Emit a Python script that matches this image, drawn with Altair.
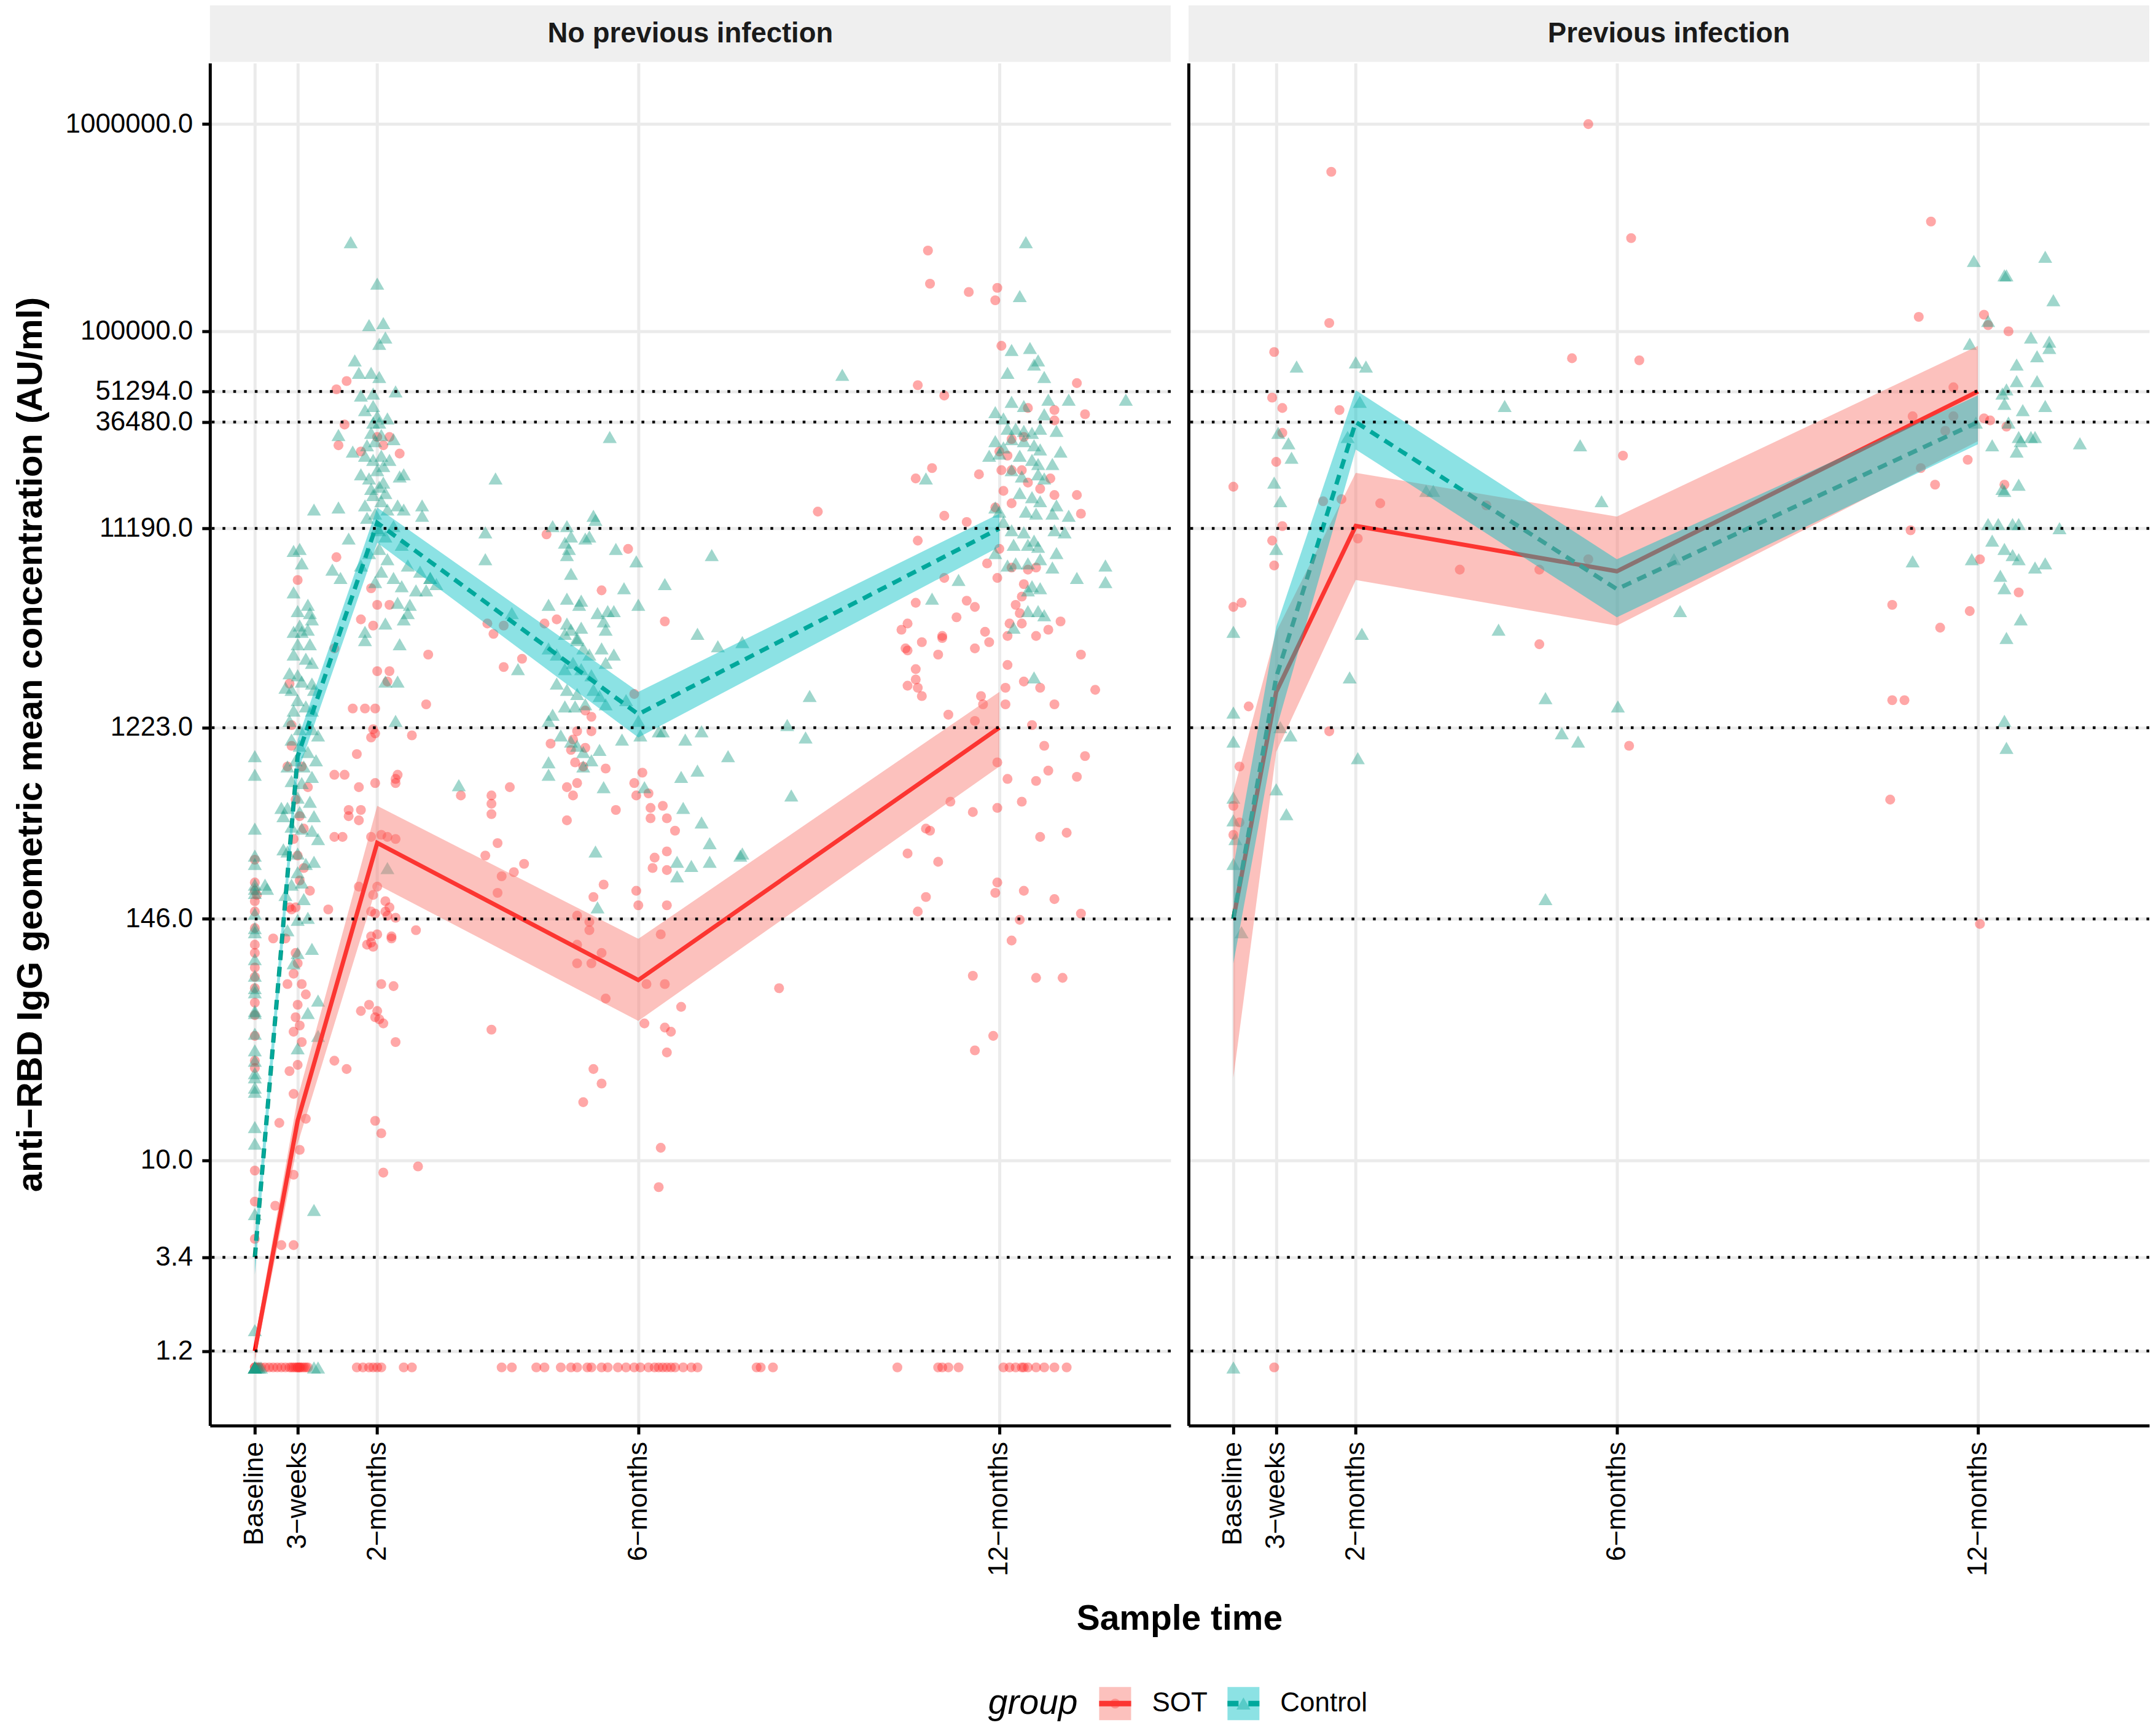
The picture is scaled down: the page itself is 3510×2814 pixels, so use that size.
import altair as alt
import pandas as pd

FONT = "Liberation Sans"
PANELS = ["No previous infection", "Previous infection"]
GROUPS = ["SOT", "Control"]
TIME_DAYS = [0, 21, 60, 188, 365]
TIME_LABELS = ["Baseline", "3\u2212weeks", "2\u2212months", "6\u2212months", "12\u2212months"]
Y_TICKS = [1.2, 3.4, 10, 146, 1223, 11190, 36480, 51294, 100000, 1000000]
REF_LINES = [51294, 36480, 11190, 1223, 146, 3.4, 1.2]
Y_TITLE = "anti\u2212RBD IgG geometric mean concentration (AU/ml)"
X_TITLE = "Sample time"
LEGEND_TITLE = "group"

# geometric mean concentration and 95% CI (AU/ml) at TIME_DAYS
NOPREV_SOT_GMT = [1.2, 15.5, 340, 74, 1223]
NOPREV_SOT_LO = [1.07, 12.0, 214, 47, 794]
NOPREV_SOT_HI = [1.35, 20, 513, 117, 1820]
NOPREV_CTRL_GMT = [3.4, 890, 11900, 1420, 11190]
NOPREV_CTRL_LO = [2.8, 741, 9550, 1096, 9120]
NOPREV_CTRL_HI = [4.2, 1072, 14125, 1820, 13180]
PREV_SOT_GMT = [146, 1820, 11500, 6950, 51294]
PREV_SOT_LO = [25, 933, 6310, 3800, 29500]
PREV_SOT_HI = [600, 3550, 20750, 12760, 85100]
PREV_CTRL_GMT = [146, 2140, 36480, 5700, 36480]
PREV_CTRL_LO = [89, 1200, 26900, 4170, 28500]
PREV_CTRL_HI = [260, 3760, 52000, 7940, 49000]

# individual samples: [sample day, log10(AU/ml)]; *_LOD = days of samples below detection (plotted at 1.0)
NOPREV_SOT_LOD = [0, 0, 1, 2, 3, 5, 7, 9, 11, 13, 15, 17, 18, 19, 20, 21, 21, 22, 22, 23, 24, 25, 26,
                  50, 53, 56, 58, 60, 62, 73, 77, 121, 126, 138, 142, 150, 155, 158, 163, 165, 170, 173,
                  178, 182, 186, 189, 193, 196, 198, 200, 202, 204, 206, 210, 214, 217, 246, 248, 254,
                  315, 335, 337, 340, 345, 367, 370, 373, 376, 377, 379, 383, 387, 392, 398]
NOPREV_SOT = [
    [0, 2.34], [0, 2.30], [1, 2.28], [0, 2.25], [0, 2.20], [0, 2.12], [0, 2.04], [0, 1.93], [0, 1.885],
    [0, 1.83], [0, 1.76], [0, 1.60], [0, 1.48], [0, 1.445], [0, 0.95], [0, 0.80], [0, 0.62], [0, 2.0],
    [0, 1.7], [0, 2.45],
    [9, 2.07], [12, 1.18], [10, 0.78], [13, 0.59], [19, 0.59], [16, 1.85], [17, 1.43], [19, 1.32],
    [19, 1.90], [21, 1.46], [19, 0.93],
    [17, 3.30], [18, 3.0], [20, 2.74], [22, 2.66], [21, 2.47], [24, 2.41], [20, 2.22], [17, 2.22],
    [15, 2.07], [18, 2.21], [21, 1.75], [20, 1.69], [22, 1.65], [19, 1.62], [23, 1.57], [25, 1.2],
    [21, 3.80], [23, 2.9], [19, 2.55], [22, 2.35], [20, 2.0], [23, 1.85], [25, 1.80], [24, 2.6],
    [26, 2.8], [18, 3.1], [21, 1.95], [22, 1.05], [27, 2.3], [16, 2.9],
    [41, 4.45], [60, 4.49], [71, 4.41], [40, 4.72], [45, 4.76], [44, 4.55], [52, 4.42], [66, 4.49],
    [63, 4.45], [40, 3.91], [57, 3.76], [60, 3.68], [66, 3.68], [52, 3.61], [58, 3.58], [39, 3.47],
    [85, 3.44], [60, 3.36], [66, 3.36], [65, 3.31], [48, 3.18], [54, 3.18], [59, 3.18], [84, 3.2],
    [58, 3.08], [59, 3.06], [57, 3.04], [77, 3.05], [50, 2.96], [70, 2.86], [69, 2.84], [69, 2.82],
    [39, 2.86], [44, 2.86], [51, 2.80], [59, 2.82], [46, 2.69], [52, 2.69], [46, 2.66], [51, 2.64],
    [39, 2.56], [43, 2.56], [57, 2.56], [62, 2.57], [65, 2.56], [69, 2.55], [51, 2.32], [60, 2.32],
    [57, 2.20], [59, 2.19], [64, 2.20], [65, 2.18], [69, 2.17], [36, 2.21], [79, 2.11], [60, 2.09],
    [67, 2.08], [55, 2.04], [57, 2.05], [58, 2.28], [64, 2.25], [66, 2.22], [57, 2.08], [58, 2.03],
    [67, 2.07], [62, 1.85], [68, 1.84], [56, 1.75], [52, 1.72], [60, 1.72], [59, 1.69], [61, 1.68],
    [63, 1.66], [69, 1.57], [39, 1.48], [45, 1.44], [59, 1.19], [62, 1.13], [63, 0.94], [80, 0.97],
    [143, 4.02], [183, 3.95], [170, 3.75], [201, 3.60], [114, 3.59], [117, 3.54], [122, 3.58],
    [142, 3.59], [148, 3.61], [122, 3.38], [131, 3.42], [186, 3.25], [162, 3.17], [165, 3.14],
    [158, 3.07], [165, 3.07], [156, 3.03], [162, 2.99], [155, 2.98], [145, 3.01], [172, 2.89],
    [161, 2.90], [157, 2.92], [186, 2.82], [190, 2.87], [187, 2.76], [193, 2.77], [153, 2.80],
    [158, 2.82], [156, 2.76], [153, 2.64], [177, 2.69], [194, 2.70], [200, 2.71], [194, 2.65],
    [202, 2.65], [206, 2.59], [196, 2.46], [195, 2.41], [202, 2.49], [202, 2.40], [187, 2.30],
    [188, 2.23], [202, 2.23], [199, 2.09], [101, 2.76], [116, 2.76], [116, 2.72], [116, 2.67],
    [125, 2.80], [119, 2.53], [113, 2.47], [121, 2.37], [127, 2.39], [132, 2.43], [119, 2.29],
    [171, 2.33], [166, 2.27], [158, 2.18], [164, 2.15], [164, 2.11], [170, 2.0], [158, 1.95],
    [165, 1.95], [158, 2.04], [172, 1.78], [201, 1.85], [192, 1.85], [191, 1.66], [201, 1.64],
    [204, 1.62], [202, 1.52], [209, 1.74], [116, 1.63], [166, 1.44], [170, 1.37], [161, 1.28],
    [199, 1.06], [198, 0.87], [257, 1.83], [276, 4.13],
    [330, 5.39], [331, 5.23], [350, 5.19], [364, 5.21], [363, 5.15], [366, 4.93], [325, 4.74],
    [338, 4.69], [403, 4.75], [379, 4.63], [392, 4.62], [392, 4.57], [407, 4.60], [324, 4.29],
    [332, 4.34], [355, 4.31], [365, 4.42], [369, 4.40], [371, 4.48], [377, 4.49], [366, 4.33],
    [371, 4.33], [376, 4.33], [367, 4.23], [371, 4.17], [379, 4.27], [385, 4.24], [390, 4.29],
    [392, 4.21], [403, 4.21], [405, 4.12], [338, 4.11], [349, 4.08], [363, 4.15], [365, 3.95],
    [364, 3.81], [371, 3.86], [325, 3.99], [359, 3.88], [338, 3.81], [377, 3.78], [379, 3.85],
    [383, 3.86], [376, 3.72], [373, 3.68], [375, 3.64], [324, 3.69], [349, 3.70], [353, 3.67],
    [344, 3.62], [320, 3.59], [317, 3.56], [327, 3.50], [337, 3.52], [337, 3.53], [320, 3.46],
    [319, 3.47], [335, 3.44], [353, 3.47], [358, 3.55], [360, 3.50], [369, 3.53], [370, 3.59],
    [376, 3.59], [383, 3.53], [389, 3.56], [395, 3.60], [324, 3.37], [324, 3.32], [320, 3.29],
    [325, 3.28], [327, 3.24], [369, 3.39], [377, 3.31], [385, 3.28], [368, 3.28], [368, 3.20],
    [392, 3.20], [405, 3.44], [412, 3.27], [340, 3.15], [356, 3.24], [357, 3.20], [353, 3.12],
    [381, 3.10], [387, 3.0], [389, 2.88], [383, 2.83], [407, 2.95], [403, 2.85], [364, 2.92],
    [369, 2.84], [341, 2.73], [352, 2.68], [364, 2.70], [376, 2.73], [331, 2.59], [329, 2.60],
    [385, 2.56], [398, 2.58], [320, 2.48], [335, 2.44], [364, 2.34], [363, 2.29], [377, 2.30],
    [392, 2.26], [329, 2.27], [325, 2.20], [375, 2.16], [405, 2.19], [371, 2.06], [352, 1.89],
    [383, 1.88], [396, 1.88], [362, 1.60], [353, 1.53],
]
NOPREV_CTRL_LOD = [0, 0, 0, 0, 0, 0, 1, 2, 3, 29, 31]
NOPREV_CTRL = [
    [0, 2.95], [0, 2.86], [0, 2.60], [0, 2.47], [0, 2.43], [0, 2.33], [0, 2.31], [0, 2.29], [0, 2.19],
    [0, 2.12], [0, 2.10], [0, 1.97], [0, 1.89], [0, 1.83], [0, 1.81], [0, 1.72], [0, 1.71], [0, 1.61],
    [0, 1.53], [0, 1.48], [0, 1.42], [0, 1.40], [0, 1.35], [0, 1.33], [0, 1.16], [0, 1.08], [0, 0.74],
    [0, 0.18],
    [5, 2.33], [6, 2.31], [13, 2.70], [14, 2.66], [14, 2.5], [29, 0.76],
    [19, 3.94], [22, 3.95], [23, 3.88], [19, 3.74], [21, 3.65], [26, 3.68], [27, 3.64], [28, 3.61],
    [22, 3.58], [19, 3.55], [23, 3.55], [26, 3.56], [21, 3.49], [27, 3.49], [19, 3.44], [25, 3.42],
    [28, 3.40], [17, 3.35], [21, 3.34], [23, 3.31], [28, 3.30], [29, 3.27], [15, 3.28], [18, 3.27],
    [21, 3.22], [25, 3.19], [28, 3.17], [19, 3.17], [17, 3.12], [22, 3.08], [28, 3.08], [31, 3.05],
    [18, 3.03], [22, 3.0], [26, 2.97], [30, 2.93], [20, 2.93], [16, 2.90], [24, 2.90], [28, 2.85],
    [18, 2.83], [23, 2.82], [21, 2.75], [27, 2.73], [16, 2.70], [22, 2.68], [29, 2.66], [18, 2.61],
    [23, 2.60], [28, 2.59], [31, 2.55], [16, 2.49], [21, 2.48], [25, 2.43], [29, 2.44], [21, 2.39],
    [23, 2.34], [18, 2.33], [15, 2.28], [24, 2.26], [21, 2.16], [26, 2.17], [16, 2.11], [21, 2.0],
    [28, 2.02], [19, 1.95], [41, 4.15], [29, 4.14], [38, 3.85], [31, 1.77], [26, 1.71], [21, 1.54],
    [31, 1.60],
    [47, 5.43], [60, 5.23], [56, 5.03], [63, 5.04], [64, 4.97], [61, 4.94], [49, 4.86], [51, 4.80],
    [57, 4.80], [61, 4.78], [52, 4.69], [69, 4.71], [58, 4.64], [60, 4.59], [58, 4.56], [61, 4.56],
    [41, 4.50], [57, 4.51], [62, 4.50], [68, 4.48], [48, 4.42], [54, 4.40], [58, 4.38], [63, 4.35],
    [52, 4.31], [56, 4.29], [61, 4.25], [71, 4.30], [73, 4.31], [58, 4.21], [62, 4.18], [54, 4.16],
    [65, 4.14], [70, 4.16], [73, 4.14], [82, 4.16], [82, 4.11], [55, 4.10], [61, 4.04], [68, 4.06],
    [64, 4.01], [46, 4.0], [56, 3.93], [61, 3.95], [65, 3.90], [72, 3.97], [52, 3.87], [62, 3.84],
    [59, 3.79], [68, 3.81], [72, 3.77], [75, 3.87], [81, 3.84], [86, 3.81], [42, 3.81], [55, 4.45],
    [59, 4.47], [60, 4.33], [63, 4.27], [57, 4.24], [66, 4.38], [59, 4.12], [64, 4.22], [60, 4.05],
    [62, 4.4], [58, 4.70], [54, 4.62], [65, 4.58],
    [79, 3.75], [84, 3.75], [89, 3.78], [73, 3.61], [75, 3.64], [76, 3.68], [70, 3.69], [71, 3.49],
    [86, 3.81], [100, 2.81], [129, 3.37], [126, 3.64], [54, 3.51], [64, 3.31], [70, 3.31], [54, 3.55],
    [64, 3.59], [69, 3.12], [65, 2.41],
    [174, 4.49], [118, 4.29], [166, 4.11], [167, 4.09], [146, 4.06], [153, 4.06], [155, 4.01],
    [162, 4.0], [164, 4.01], [113, 4.03], [113, 3.90], [152, 3.98], [154, 3.95], [153, 3.92],
    [177, 3.95], [187, 3.89], [155, 3.83], [201, 3.78], [181, 3.76], [188, 3.68], [144, 3.68],
    [153, 3.71], [160, 3.70], [159, 3.68], [168, 3.64], [173, 3.65], [176, 3.65], [224, 3.92],
    [217, 3.54], [153, 3.59], [155, 3.56], [160, 3.57], [152, 3.54], [158, 3.52], [171, 3.60],
    [172, 3.56], [144, 3.47], [148, 3.44], [158, 3.51], [161, 3.47], [164, 3.44], [170, 3.47],
    [176, 3.44], [152, 3.37], [156, 3.40], [160, 3.37], [165, 3.34], [172, 3.40], [148, 3.30],
    [153, 3.27], [158, 3.25], [166, 3.27], [169, 3.24], [152, 3.19], [157, 3.19], [162, 3.20],
    [172, 3.20], [182, 3.22], [188, 3.12], [200, 3.07], [198, 3.07], [180, 3.03], [189, 3.05],
    [146, 3.15], [144, 3.12], [150, 3.05], [155, 3.02], [158, 3.0], [211, 3.03], [219, 3.07],
    [169, 2.98], [161, 2.97], [165, 2.93], [161, 2.90], [144, 2.92], [144, 2.86], [171, 2.80],
    [209, 2.85], [217, 2.88], [232, 2.95], [210, 2.70], [219, 2.63], [207, 2.44], [214, 2.42],
    [223, 2.44], [223, 2.53], [238, 2.47], [207, 2.37], [167, 2.49], [168, 2.22], [191, 2.80],
    [288, 4.79], [239, 3.50], [272, 3.24], [261, 3.10], [270, 3.04], [263, 2.76], [239, 2.48],
    [345, 3.80], [332, 3.71], [329, 4.29], [227, 3.48],
    [378, 5.43], [375, 5.17], [371, 4.91], [380, 4.92], [384, 4.86], [382, 4.84], [387, 4.78],
    [369, 4.80], [389, 4.67], [377, 4.64], [371, 4.66], [387, 4.60], [399, 4.67], [427, 4.67],
    [363, 4.61], [367, 4.58], [369, 4.53], [373, 4.53], [377, 4.52], [381, 4.51], [385, 4.53],
    [363, 4.47], [367, 4.44], [371, 4.48], [377, 4.47], [382, 4.45], [385, 4.43], [393, 4.52],
    [360, 4.40], [365, 4.41], [375, 4.40], [381, 4.38], [384, 4.36], [391, 4.36], [395, 4.42],
    [371, 4.33], [376, 4.30], [384, 4.31], [387, 4.29], [375, 4.22], [381, 4.20], [385, 4.18],
    [393, 4.16], [399, 4.11], [363, 4.15], [365, 4.13], [378, 4.13], [383, 4.12], [391, 4.12],
    [367, 4.08], [371, 4.04], [377, 4.03], [382, 3.99], [392, 4.04], [397, 4.03], [372, 3.97],
    [379, 3.97], [384, 3.96], [363, 3.93], [369, 3.87], [373, 3.88], [379, 3.88], [385, 3.90],
    [393, 3.93], [391, 3.86], [417, 3.87], [417, 3.79], [403, 3.81], [381, 3.77], [379, 3.75],
    [385, 3.76], [379, 3.65], [384, 3.65], [387, 3.63], [372, 3.57], [382, 3.33],
]
PREV_SOT_LOD = [20]
PREV_SOT = [
    [48, 5.77], [174, 6.0], [195, 5.45], [342, 5.53],
    [47, 5.04], [20, 4.90], [19, 4.68], [24, 4.63], [52, 4.62], [24, 4.51], [166, 4.87], [199, 4.86],
    [21, 4.37], [0, 4.25], [44, 4.18], [53, 4.19], [72, 4.17], [24, 4.06], [19, 3.99], [20, 3.87],
    [61, 4.0], [111, 3.85], [124, 4.16], [150, 3.85], [174, 3.90], [191, 4.40], [0, 3.67], [4, 3.69],
    [150, 3.49], [7.5, 3.19], [47, 3.07], [194, 3.0], [3, 2.90], [0, 2.71], [3, 2.63], [0, 2.57],
    [336, 5.07], [368, 5.08], [370, 5.03], [380, 5.0], [353, 4.73], [333, 4.59], [353, 4.59],
    [349, 4.52], [368, 4.58], [371, 4.57], [379, 4.54], [337, 4.34], [360, 4.38], [344, 4.26],
    [378, 4.26], [332, 4.04], [366, 3.90], [385, 3.74], [323, 3.68], [361, 3.65], [346.5, 3.57],
    [323, 3.22], [329, 3.22], [322, 2.74], [366, 2.14],
]
PREV_CTRL_LOD = [0]
PREV_CTRL = [
    [31, 4.83], [60, 4.85], [65, 4.83], [62, 4.66], [133, 4.64], [22, 4.51], [27, 4.46], [28.5, 4.39],
    [56, 4.49], [170, 4.45], [20, 4.27], [23, 4.18], [180.5, 4.18], [94.5, 4.23], [98, 4.23],
    [21, 3.95], [0, 3.55], [63, 3.54], [130, 3.56], [57, 3.33], [153, 3.23], [188.5, 3.19], [0, 3.16],
    [0, 3.02], [23, 3.09], [28, 3.05], [161, 3.06], [169, 3.02], [61, 2.94], [21, 2.79], [26, 2.67],
    [0, 2.75], [0, 2.64], [1, 2.55], [0, 2.43], [4, 2.10], [153, 2.26], [219, 3.65],
    [363, 5.34], [398, 5.36], [378, 5.27], [379, 5.27], [402, 5.15], [370, 5.05], [391, 4.97],
    [400, 4.95], [400, 4.92], [361, 4.94], [384, 4.84], [394, 4.88], [384, 4.76], [379, 4.72],
    [377, 4.70], [394, 4.76], [378, 4.65], [387, 4.62], [398, 4.64], [364, 4.56], [380, 4.56],
    [385, 4.49], [384, 4.42], [386, 4.47], [391, 4.49], [393, 4.49], [372, 4.45], [415, 4.46],
    [377, 4.24], [378, 4.23], [385, 4.26], [370, 4.07], [375, 4.07], [382, 4.07], [385, 4.07],
    [405, 4.05], [372, 3.99], [362, 3.90], [378, 3.95], [382, 3.92], [385, 3.90], [393, 3.86],
    [398, 3.88], [376, 3.82], [378, 3.76], [333, 3.89], [386, 3.61], [379, 3.52], [378, 3.12],
    [379, 2.99], [216, 3.90],
]

# ---------------- tables ----------------
pt_rows = []
def add_points(panel, group, pairs, lod_days):
    for d, l in pairs:
        pt_rows.append({"panel": panel, "group": group, "day": d, "conc": 10 ** l})
    for d in lod_days:
        pt_rows.append({"panel": panel, "group": group, "day": d, "conc": 1.0})

add_points(PANELS[0], "SOT", NOPREV_SOT, NOPREV_SOT_LOD)
add_points(PANELS[0], "Control", NOPREV_CTRL, NOPREV_CTRL_LOD)
add_points(PANELS[1], "SOT", PREV_SOT, PREV_SOT_LOD)
add_points(PANELS[1], "Control", PREV_CTRL, PREV_CTRL_LOD)
points = pd.DataFrame(pt_rows)

gm_rows = []
for panel, group, g, lo, hi in [
    (PANELS[0], "SOT", NOPREV_SOT_GMT, NOPREV_SOT_LO, NOPREV_SOT_HI),
    (PANELS[0], "Control", NOPREV_CTRL_GMT, NOPREV_CTRL_LO, NOPREV_CTRL_HI),
    (PANELS[1], "SOT", PREV_SOT_GMT, PREV_SOT_LO, PREV_SOT_HI),
    (PANELS[1], "Control", PREV_CTRL_GMT, PREV_CTRL_LO, PREV_CTRL_HI),
]:
    for d, a, b, c in zip(TIME_DAYS, g, lo, hi):
        gm_rows.append({"panel": panel, "group": group, "day": d, "gmt": a, "lo": b, "hi": c})
gmt = pd.DataFrame(gm_rows)
reflines = pd.DataFrame({"v": REF_LINES})

# ---------------- styling ----------------
W, H = 1565, 2220
GAP = 29
PCOL = {"SOT": "#FF2E2E", "Control": "#1A9E86"}
LCOL = {"SOT": "#FF0000", "Control": "#00967D"}
RCOL = {"SOT": "#F8766D", "Control": "#00BFC4"}
SHAPE = {"SOT": "circle", "Control": "triangle-up"}
SIZE = {"SOT": 260, "Control": 520}
DASH = {"SOT": {}, "Control": {"strokeDash": [16, 11]}}
LEG_DASH = {"SOT": {}, "Control": {"strokeDash": [18, 16]}}
LEG_DX = [-105, 104]
PT_OPACITY = 0.42

xscale = alt.Scale(domain=[-22, 449], nice=False, zero=False)
yscale = alt.Scale(type="log", domain=[0.524, 1.97e6], nice=False)
label_expr = " : ".join(f"datum.value == {d} ? '{l}'" for d, l in zip(TIME_DAYS, TIME_LABELS)) + " : ''"

grid_kw = dict(grid=True, gridColor="#EBEBEB", gridWidth=5, domainColor="black", domainWidth=5)
xaxis = alt.Axis(values=TIME_DAYS, labelExpr=label_expr, title=None, labelAngle=270, labelAlign="right",
                 labelBaseline="middle", labelFontSize=44, labelColor="black", labelPadding=12,
                 labelLimit=0, tickSize=14, tickWidth=5, tickColor="black", labelFlush=False,
                 labelOverlap=False, **grid_kw)
yaxis_left = alt.Axis(values=Y_TICKS, format=".1f", title=Y_TITLE, titleFontSize=58,
                      titleFontWeight="bold", titleColor="black", titlePadding=62, titleLimit=0,
                      labelFontSize=44, labelColor="black", labelPadding=15, labelLimit=0, tickSize=13,
                      tickWidth=5, tickColor="black", labelOverlap=False, labelFlush=False, **grid_kw)
yaxis_right = alt.Axis(values=Y_TICKS, labels=False, ticks=False, title=None, **grid_kw)


def panel_chart(panel, yaxis, extras):
    X = alt.X("day:Q", scale=xscale, axis=xaxis)
    strip_df = pd.DataFrame({"panel": [panel]})
    layers = [
        alt.Chart(strip_df).mark_rect(color="#EFEFEF").encode(
            x=alt.value(0), x2=alt.value(W), y=alt.value(-94), y2=alt.value(-2)),
        alt.Chart(strip_df).mark_text(fontSize=45.5, fontWeight="bold", color="#1A1A1A",
                                      baseline="middle", align="center").encode(
            x=alt.value(W / 2), y=alt.value(-48), text="panel:N"),
    ]
    for g in GROUPS:
        d = points[(points.panel == panel) & (points.group == g)]
        layers.append(alt.Chart(d).mark_point(filled=True, shape=SHAPE[g], size=SIZE[g],
                                              opacity=PT_OPACITY, color=PCOL[g], strokeWidth=0).encode(
            x=X, y=alt.Y("conc:Q", scale=yscale, axis=yaxis)))
    for g in GROUPS:
        d = gmt[(gmt.panel == panel) & (gmt.group == g)]
        layers.append(alt.Chart(d).mark_line(color=LCOL[g], strokeWidth=7, **DASH[g]).encode(
            x=X, y=alt.Y("gmt:Q", scale=yscale, axis=yaxis)))
    for g in GROUPS:
        d = gmt[(gmt.panel == panel) & (gmt.group == g)]
        layers.append(alt.Chart(d).mark_area(color=RCOL[g], opacity=0.45).encode(
            x=X, y=alt.Y("lo:Q", scale=yscale, axis=yaxis), y2="hi:Q"))
    layers.append(alt.Chart(reflines).mark_rule(color="black", strokeWidth=4.5,
                                                strokeDash=[4.5, 13]).encode(
        y=alt.Y("v:Q", scale=yscale, axis=yaxis)))
    layers += extras
    return alt.layer(*layers).properties(width=W, height=H)


# x title and legend (centred under both panels)
C = W + GAP / 2
LY = H + 453
extras = [
    alt.Chart(pd.DataFrame({"t": [X_TITLE]})).mark_text(fontSize=57, fontWeight="bold", color="black",
                                                         baseline="middle", align="center").encode(
        x=alt.value(C), y=alt.value(H + 316), text="t:N"),
    alt.Chart(pd.DataFrame({"t": [LEGEND_TITLE]})).mark_text(fontSize=57, fontStyle="italic",
                                                              color="black", baseline="middle",
                                                              align="right").encode(
        x=alt.value(C - 166), y=alt.value(LY), text="t:N"),
]
for g, dx in zip(GROUPS, LEG_DX):
    df = pd.DataFrame({"group": [g]})
    cx = C + dx
    extras.append(alt.Chart(df).mark_point(filled=True, shape=SHAPE[g], size=SIZE[g], opacity=PT_OPACITY,
                                           color=PCOL[g], strokeWidth=0).encode(
        x=alt.value(cx), y=alt.value(LY)))
    extras.append(alt.Chart(df).mark_rule(color=LCOL[g], strokeWidth=9, **LEG_DASH[g]).encode(
        x=alt.value(cx - 26), x2=alt.value(cx + 26), y=alt.value(LY)))
    extras.append(alt.Chart(df).mark_rect(color=RCOL[g], opacity=0.45).encode(
        x=alt.value(cx - 26), x2=alt.value(cx + 26), y=alt.value(LY - 27), y2=alt.value(LY + 27)))
    extras.append(alt.Chart(df).mark_text(fontSize=44, color="black", baseline="middle",
                                          align="left").encode(
        x=alt.value(cx + 60), y=alt.value(LY), text="group:N"))

left = panel_chart(PANELS[0], yaxis_left, extras)
right = panel_chart(PANELS[1], yaxis_right, [])

chart = (
    alt.hconcat(left, right, spacing=GAP, bounds="flush")
    .properties(padding={"left": 14, "top": 0, "right": 0, "bottom": 0})
    .configure(font=FONT, background="white")
    .configure_view(stroke=None)
)
chart.save("out.html", embed_options={"renderer": "svg", "actions": False})
